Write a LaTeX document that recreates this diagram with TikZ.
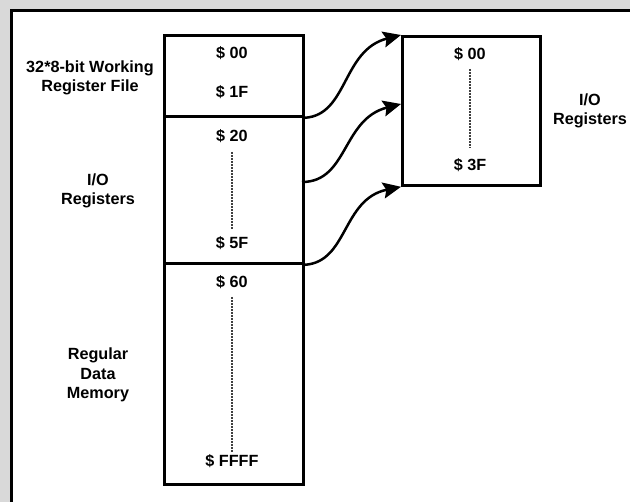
\documentclass[tikz,border=0pt]{standalone}
\usepackage{fontspec}
\setmainfont{Liberation Sans}
\usetikzlibrary{arrows.meta}
\begin{document}
\begin{tikzpicture}[x=1pt,y=-1pt,
  box/.style={draw=black,line width=2.8pt,minimum width=139pt,inner sep=0pt,anchor=north west},
  lbl/.style={font=\fontsize{16.2}{19.5}\selectfont\bfseries,align=center,inner sep=0pt},
  addr/.style={font=\fontsize{16.2}{18}\selectfont\bfseries,inner sep=0pt},
  dots/.style={draw=black!75,line width=1.5pt,dash pattern=on 1pt off 0.5pt},
  link/.style={draw=black,line width=2.5pt,-{Stealth[length=18pt,width=16pt,inset=3pt]}}]
\useasboundingbox (0,0) rectangle (630,502);
\fill[black!15] (0,0) rectangle (630,502);
\fill[white] (11.5,10.5) rectangle (630,502);
\draw[line width=3pt] (11.5,502) -- (11.5,10.5) -- (630,10.5);
% boxes
\node[box,minimum height=81pt] (wreg) at (163,34) {};
\node[box,minimum height=147pt] (io) at (163,115) {};
\node[box,minimum height=221pt] (mem) at (163,262) {};
\node[box,minimum width=138pt,minimum height=149pt] (iobox) at (401,35) {};
% addresses
\node[addr] (a00) at (232,53) {\$ 00};
\node[addr] (a1f) at (232,92) {\$ 1F};
\node[addr] (a20) at (232,136) {\$ 20};
\node[addr] (a5f) at (232,243) {\$ 5F};
\node[addr] (a60) at (232,282) {\$ 60};
\node[addr] (affff) at (232,461) {\$ FFFF};
\node[addr] (b00) at (470,54) {\$ 00};
\node[addr] (b3f) at (470,165) {\$ 3F};
\coordinate (d1a) at (232,152); \coordinate (d1b) at (232,230);
\coordinate (d2a) at (232,297); \coordinate (d2b) at (232,452);
\coordinate (d3a) at (470,69); \coordinate (d3b) at (470,148);
\draw[dots] (d1a) -- (d1b);
\draw[dots] (d2a) -- (d2b);
\draw[dots] (d3a) -- (d3b);
% labels
\node[lbl] (lw) at (90,78) {32*8-bit Working\\Register File};
\node[lbl] (lio) at (98,191) {I/O\\Registers};
\node[lbl] (lm) at (98,375) {Regular\\Data\\Memory};
\node[lbl] (rio) at (590,111) {I/O\\Registers};
% connectors
\coordinate (s1) at (wreg.south east);
\coordinate (s2) at (302,182);
\coordinate (s3) at (io.south east);
\coordinate (t1) at (iobox.north west);
\coordinate (t2) at (401,104);
\coordinate (t3) at (iobox.south west);
\draw[link] (s1) .. controls (348,115) and (342,50) .. (t1);
\draw[link] (s2) .. controls (348,182) and (342,119) .. (t2);
\draw[link] (s3) .. controls (348,262) and (342,199) .. (t3);
\end{tikzpicture}
\end{document}
